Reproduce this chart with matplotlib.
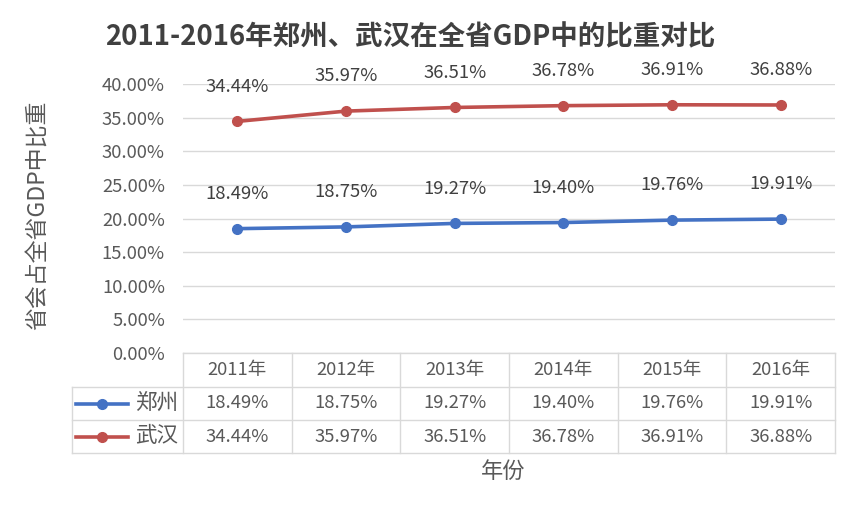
import matplotlib
matplotlib.use("Agg")
import matplotlib.pyplot as plt
import matplotlib.transforms as mtransforms
from matplotlib.lines import Line2D

plt.rcParams['font.family'] = ['Noto Sans CJK SC', 'DejaVu Sans']

years = ["2011年", "2012年", "2013年", "2014年", "2015年", "2016年"]
zhengzhou = [18.49, 18.75, 19.27, 19.40, 19.76, 19.91]
wuhan = [34.44, 35.97, 36.51, 36.78, 36.91, 36.88]
series_names = ["郑州", "武汉"]
yticks = [0, 5, 10, 15, 20, 25, 30, 35, 40]

title = "2011-2016年郑州、武汉在全省GDP中的比重对比"
ylabel = "省会占全省GDP中比重"
xlabel = "年份"

BLUE = "#4472C4"
RED = "#C0504D"
GRID = "#D9D9D9"
TXT = "#595959"
FS = 13.3

W, H = 856, 513
fig = plt.figure(figsize=(W / 100, H / 100), dpi=100)

L, R, T, B = 183, 835, 84, 353
ax = fig.add_axes([L / W, 1 - B / H, (R - L) / W, (B - T) / H])

x = list(range(len(years)))
series = [zhengzhou, wuhan]
colors = [BLUE, RED]
for vals, c in zip(series, colors):
    ax.plot(x, vals, color=c, lw=2.6, marker='o', ms=7, mec=c, mfc=c, zorder=3)
    for xi, v in zip(x, vals):
        ax.annotate(f"{v:.2f}%", (xi, v), xytext=(0, 25), textcoords='offset points',
                    ha='center', va='center', fontsize=FS, color="#404040")

ax.set_xlim(-0.5, len(years) - 0.5)
ax.set_ylim(0, 40)
ax.set_yticks(yticks)
ax.set_yticklabels([f"{t:.2f}%" for t in yticks], fontsize=FS, color=TXT)
ax.set_xticks([])
ax.tick_params(axis='y', length=0, pad=13)
ax.grid(axis='y', color=GRID, lw=1)
for s in ax.spines.values():
    s.set_visible(False)

# data table below axes
tr = mtransforms.blended_transform_factory(ax.transData, ax.transAxes)
h = B - T
def ay(px):
    return (B - px) / h
row_edges = [ay(353), ay(387), ay(420), ay(453)]
leg_left = (72 - L) / (R - L)

lk = dict(color=GRID, lw=1, clip_on=False, zorder=1)
ax.add_line(Line2D([0, 1], [row_edges[0]] * 2, transform=ax.transAxes, **lk))
for ye in row_edges[1:]:
    ax.add_line(Line2D([leg_left, 1], [ye] * 2, transform=ax.transAxes, **lk))
for i in range(len(years) + 1):
    ax.add_line(Line2D([i - 0.5, i - 0.5], [row_edges[0], row_edges[3]], transform=tr, **lk))
ax.add_line(Line2D([leg_left, leg_left], [row_edges[1], row_edges[3]], transform=ax.transAxes, **lk))

ymid = [(row_edges[k] + row_edges[k + 1]) / 2 for k in range(3)]
for xi, yr in zip(x, years):
    ax.text(xi, ymid[0], yr, transform=tr, ha='center', va='center', fontsize=FS, color=TXT)
for r, (vals, c, name) in enumerate(zip(series, colors, series_names)):
    ym = ymid[r + 1]
    for xi, v in zip(x, vals):
        ax.text(xi, ym, f"{v:.2f}%", transform=tr, ha='center', va='center', fontsize=FS, color=TXT)
    kx0 = (76 - L) / (R - L)
    kx1 = (128 - L) / (R - L)
    ax.add_line(Line2D([kx0, kx1], [ym, ym], transform=ax.transAxes, color=c, lw=2.6,
                       clip_on=False))
    ax.add_line(Line2D([(kx0 + kx1) / 2], [ym], transform=ax.transAxes, color=c, marker='o',
                       ms=7, clip_on=False))
    ax.text((157 - L) / (R - L), ym, name, transform=ax.transAxes, ha='center', va='center',
            fontsize=15.5, color=TXT)

fig.text(410 / W, 1 - 37 / H, title, ha='center', va='center', fontsize=19.8,
         fontweight='bold', color="#404040")
fig.text(38 / W, 1 - 215 / H, ylabel, ha='center', va='center', rotation=90,
         fontsize=16.5, color=TXT)
fig.text(503 / W, 1 - 471 / H, xlabel, ha='center', va='center', fontsize=16, color=TXT)

fig.savefig("out.png", dpi=100, facecolor='white')
